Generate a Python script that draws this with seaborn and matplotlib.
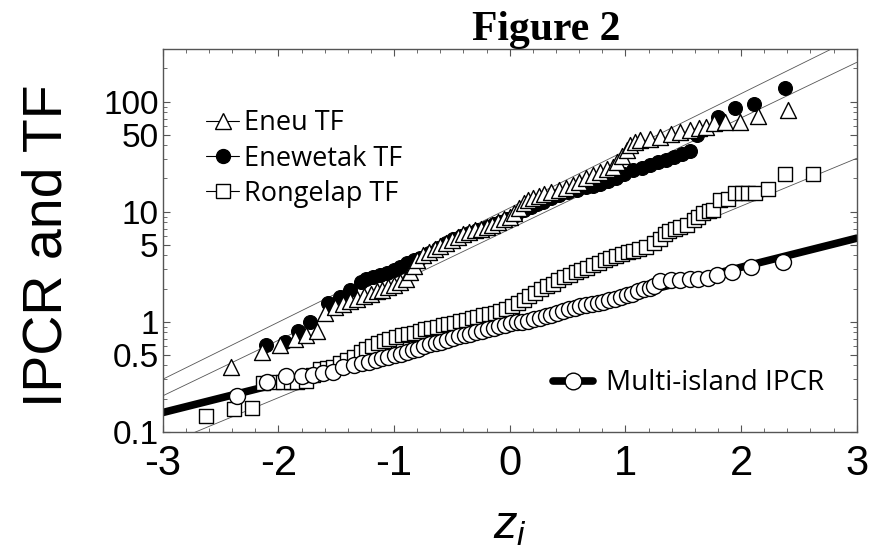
import numpy as np
import matplotlib
matplotlib.use("Agg")
import matplotlib.pyplot as plt
from matplotlib.lines import Line2D
from matplotlib.ticker import FixedLocator, FixedFormatter, MultipleLocator, LogLocator, NullFormatter
import seaborn as sns

# ---------------- data ----------------
eneu_z = [-2.41, -2.14, -1.99, -1.86, -1.76, -1.67, -1.60, -1.51, -1.44, -1.38,
          -1.32, -1.26, -1.20, -1.15, -1.10, -1.05, -1.00, -0.95, -0.90, -0.86,
          -0.83, -0.80, -0.75, -0.70, -0.65, -0.60, -0.55, -0.50, -0.45, -0.40,
          -0.35, -0.30, -0.25, -0.20, -0.15, -0.10, -0.05, 0.00, 0.04, 0.08,
          0.12, 0.16, 0.20, 0.25, 0.30, 0.36, 0.43, 0.49, 0.55, 0.60,
          0.66, 0.72, 0.78, 0.84, 0.89, 0.93, 0.97, 1.01, 1.04, 1.08,
          1.13, 1.21, 1.30, 1.39, 1.47, 1.56, 1.64, 1.70, 1.77, 1.86,
          1.99, 2.15, 2.41]
eneu_tf = [0.39, 0.53, 0.61, 0.69, 0.76, 0.83, 1.19, 1.37, 1.45, 1.55,
           1.62, 1.70, 1.80, 1.88, 1.95, 2.05, 2.15, 2.30, 2.45, 2.8,
           3.2, 3.6, 4.0, 4.3, 4.6, 4.9, 5.2, 5.5, 5.9, 6.2,
           6.5, 6.8, 7.0, 7.3, 7.6, 8.0, 8.5, 9.0, 9.8, 10.8,
           12.0, 12.8, 13.3, 13.9, 14.5, 15.0, 15.7, 16.5, 17.5, 18.6,
           20.0, 21.5, 23.0, 24.2, 25.5, 28, 32, 36, 40, 43,
           44.9, 46, 48, 51, 53, 55, 57, 59, 63.5, 64.5,
           64.5, 74, 84]

enew_z = [-2.11, -1.94, -1.83, -1.73, -1.57, -1.47, -1.38, -1.29, -1.24, -1.18,
          -1.12, -1.06, -1.00, -0.95, -0.89, -0.83, -0.78, -0.70, -0.62, -0.55,
          -0.49, -0.42, -0.35, -0.28, -0.20, -0.14, -0.08, -0.02, 0.05, 0.12,
          0.18, 0.24, 0.29, 0.36, 0.43, 0.50, 0.58, 0.66, 0.72, 0.78,
          0.85, 0.92, 0.99, 1.07, 1.14, 1.21, 1.28, 1.35, 1.42, 1.49,
          1.56, 1.62, 1.80, 1.95, 2.11, 2.38]
enew_tf = [0.61, 0.66, 0.83, 1.00, 1.47, 1.69, 1.94, 2.31, 2.45, 2.57,
           2.65, 2.75, 2.95, 3.16, 3.4, 3.6, 3.8, 4.2, 4.7, 5.2,
           5.6, 6.0, 6.4, 6.8, 7.3, 7.7, 8.1, 8.6, 9.4, 10.3,
           11.0, 11.7, 12.3, 13.2, 14.2, 15.0, 15.8, 16.6, 17.2, 17.8,
           19.0, 20.3, 22.0, 23.8, 25.0, 26.6, 28.0, 29.5, 31.5, 33.5,
           35.6, 50, 73, 88, 95, 134]

rong_z = [-2.63, -2.38, -2.23, -2.13, -2.04, -1.96, -1.89, -1.84, -1.76, -1.70,
          -1.64, -1.58, -1.53, -1.47, -1.41, -1.35, -1.29, -1.24, -1.19, -1.14,
          -1.09, -1.04, -0.98, -0.93, -0.88, -0.83, -0.78, -0.73, -0.68, -0.63,
          -0.58, -0.53, -0.48, -0.43, -0.38, -0.33, -0.28, -0.23, -0.18, -0.13,
          -0.08, -0.03, 0.02, 0.07, 0.12, 0.17, 0.22, 0.27, 0.32, 0.37,
          0.42, 0.47, 0.52, 0.57, 0.62, 0.67, 0.72, 0.77, 0.82, 0.87,
          0.92, 0.97, 1.02, 1.07, 1.12, 1.18, 1.25, 1.30, 1.34, 1.38,
          1.43, 1.47, 1.53, 1.59, 1.63, 1.67, 1.72, 1.76, 1.82, 1.89,
          1.95, 2.01, 2.06, 2.12, 2.23, 2.38, 2.62]
rong_tf = [0.14, 0.16, 0.165, 0.275, 0.28, 0.285, 0.285, 0.28, 0.29, 0.33,
           0.37, 0.38, 0.39, 0.42, 0.45, 0.48, 0.53, 0.56, 0.60, 0.64,
           0.67, 0.70, 0.73, 0.75, 0.77, 0.79, 0.82, 0.85, 0.88, 0.90,
           0.93, 0.96, 0.98, 1.01, 1.04, 1.07, 1.10, 1.14, 1.17, 1.21,
           1.26, 1.31, 1.38, 1.47, 1.58, 1.70, 1.83, 1.97, 2.10, 2.22,
           2.38, 2.52, 2.66, 2.80, 2.95, 3.10, 3.25, 3.40, 3.60, 3.80,
           3.95, 4.10, 4.25, 4.40, 4.55, 4.80, 5.20, 5.60, 6.2, 6.6,
           7.0, 7.2, 7.6, 8.4, 9.0, 9.7, 10.2, 10.4, 12.8, 12.9,
           14.8, 14.8, 14.8, 14.8, 16.1, 21.9, 21.9]

multi_z = [-2.36, -2.10, -1.93, -1.80, -1.70, -1.61, -1.53, -1.44, -1.35, -1.28,
           -1.22, -1.16, -1.10, -1.05, -0.99, -0.94, -0.89, -0.84, -0.79, -0.74,
           -0.69, -0.64, -0.59, -0.54, -0.49, -0.44, -0.39, -0.34, -0.29, -0.24,
           -0.19, -0.14, -0.09, -0.04, 0.01, 0.06, 0.11, 0.16, 0.21, 0.26,
           0.31, 0.36, 0.41, 0.46, 0.51, 0.56, 0.61, 0.66, 0.71, 0.76,
           0.81, 0.86, 0.91, 0.96, 1.01, 1.06, 1.11, 1.16, 1.21, 1.25,
           1.30, 1.39, 1.47, 1.56, 1.63, 1.71, 1.79, 1.92, 2.09, 2.36]
multi_ipcr = [0.21, 0.28, 0.32, 0.32, 0.33, 0.34, 0.35, 0.39, 0.40, 0.42,
              0.43, 0.45, 0.47, 0.48, 0.50, 0.51, 0.53, 0.55, 0.57, 0.60,
              0.63, 0.645, 0.66, 0.68, 0.71, 0.74, 0.76, 0.78, 0.80, 0.83,
              0.85, 0.88, 0.91, 0.94, 0.97, 0.99, 1.00, 1.02, 1.05, 1.08,
              1.12, 1.16, 1.21, 1.26, 1.30, 1.34, 1.38, 1.42, 1.45, 1.48,
              1.52, 1.56, 1.61, 1.67, 1.73, 1.80, 1.90, 1.96, 2.02, 2.12,
              2.34, 2.39, 2.40, 2.44, 2.46, 2.50, 2.66, 2.85, 3.16, 3.51]

# fitted log-normal lines: geometric mean (value at z=0) and log10 slope
fit_labels = ["Eneu TF", "Enewetak TF", "Rongelap TF"]
fit_center = [10.8, 6.93, 1.51]
fit_slope = [0.519, 0.505, 0.435]
multi_label = "Multi-island IPCR"
multi_center = 0.925
multi_slope = 0.264

x_ticks = [-3, -2, -1, 0, 1, 2, 3]
x_tick_labels = ["-3", "-2", "-1", "0", "1", "2", "3"]
y_ticks = [0.1, 0.5, 1, 5, 10, 50, 100]
y_tick_labels = ["0.1", "0.5", "1", "5", "10", "50", "100"]

# ---------------- plot ----------------
sns.set_style("ticks")
plt.rcParams['font.family'] = ['Liberation Sans', 'DejaVu Sans']
plt.rcParams['mathtext.fontset'] = 'custom'
plt.rcParams['mathtext.it'] = 'Liberation Sans:italic'
plt.rcParams['mathtext.rm'] = 'Liberation Sans'
plt.rcParams['text.color'] = 'black'
plt.rcParams['axes.labelcolor'] = 'black'

fig = plt.figure(figsize=(8.72, 5.48), dpi=100)
ax = fig.add_axes([0.1866, 0.2122, 0.7959, 0.6984])
ax.set_yscale('log')

zgrid = np.linspace(-3, 3, 300)
for c, s in zip(fit_center, fit_slope):
    sns.lineplot(x=zgrid, y=c * 10 ** (s * zgrid), ax=ax, color='#555555',
                 linewidth=0.6, zorder=1, estimator=None, sort=False)
sns.lineplot(x=zgrid, y=multi_center * 10 ** (multi_slope * zgrid), ax=ax,
             color='black', linewidth=5.5, zorder=2, estimator=None, sort=False)

sns.scatterplot(x=enew_z, y=enew_tf, ax=ax, marker='o', s=10.0 ** 2,
                color='black', edgecolor='black', linewidth=0.8, zorder=3)
sns.scatterplot(x=eneu_z, y=eneu_tf, ax=ax, marker='^', s=11.5 ** 2,
                color='white', edgecolor='black', linewidth=1.0, zorder=4)
sns.scatterplot(x=rong_z, y=rong_tf, ax=ax, marker='s', s=10.0 ** 2,
                color='white', edgecolor='black', linewidth=1.0, zorder=3)
sns.scatterplot(x=multi_z, y=multi_ipcr, ax=ax, marker='o', s=11.5 ** 2,
                color='white', edgecolor='black', linewidth=1.0, zorder=4)

ax.set_xlim(-3, 3)
ax.set_ylim(0.1, 300)
ax.xaxis.set_major_locator(FixedLocator(x_ticks))
ax.xaxis.set_major_formatter(FixedFormatter(x_tick_labels))
ax.xaxis.set_minor_locator(MultipleLocator(0.2))
ax.yaxis.set_major_locator(FixedLocator(y_ticks))
ax.yaxis.set_major_formatter(FixedFormatter(y_tick_labels))
ax.yaxis.set_minor_locator(LogLocator(base=10, subs=[2, 3, 4, 6, 7, 8, 9]))
ax.yaxis.set_minor_formatter(NullFormatter())

ax.tick_params(which='both', direction='in', top=True, right=True,
               color='#555555', labelcolor='black')
ax.tick_params(which='major', length=5, width=0.8)
ax.tick_params(which='minor', length=3, width=0.6)
ax.tick_params(axis='y', labelsize=24, pad=3)
ax.tick_params(axis='x', labelsize=30, pad=9)
for sp in ax.spines.values():
    sp.set_visible(True)
    sp.set_color('#555555')
    sp.set_linewidth(1.0)

ax.set_ylabel("IPCR and TF", fontsize=40, va='center', color='black')
ax.yaxis.set_label_coords(-0.166, 0.485)
ax.set_xlabel(r"$z_i$", fontsize=34, va='top', color='black')
ax.xaxis.set_label_coords(0.5, -0.19)
ax.set_title("Figure 2", x=0.552, pad=6.5, fontsize=30, fontweight='bold',
             fontfamily='Liberation Serif', color='black')

legend_font = {'family': 'Open Sans', 'size': 19.5}
handles1 = [
    Line2D([], [], color='black', lw=0.8, marker='^', markersize=11,
           markerfacecolor='white', markeredgecolor='black', markeredgewidth=1.0),
    Line2D([], [], color='black', lw=0.8, marker='o', markersize=10,
           markerfacecolor='black', markeredgecolor='black'),
    Line2D([], [], color='black', lw=0.8, marker='s', markersize=10,
           markerfacecolor='white', markeredgecolor='black', markeredgewidth=1.0),
]
leg1 = ax.legend(handles1, fit_labels, loc='upper left', bbox_to_anchor=(0.063, 0.842),
                 frameon=False, prop=legend_font, labelcolor='black',
                 handlelength=1.2, handletextpad=0.2, labelspacing=0.26,
                 borderpad=0, borderaxespad=0)
ax.add_artist(leg1)
handles2 = [Line2D([], [], color='black', lw=5.5, marker='o', markersize=12,
                   markerfacecolor='white', markeredgecolor='black', markeredgewidth=1.0)]
ax.legend(handles2, [multi_label], loc='center left', bbox_to_anchor=(0.5624, 0.1265),
          frameon=False, prop={'family': 'Open Sans', 'size': 20}, labelcolor='black',
          handlelength=1.45, handletextpad=0.45, borderpad=0, borderaxespad=0)

fig.savefig("out.png", dpi=100)
